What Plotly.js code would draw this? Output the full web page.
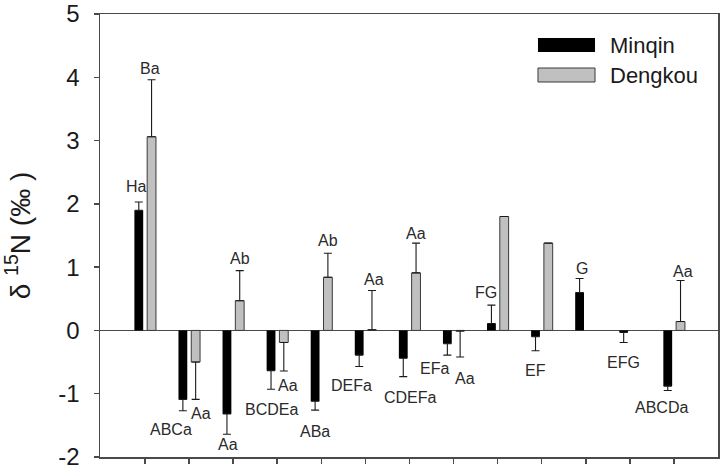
<!DOCTYPE html>
<html>
<head>
<meta charset="utf-8">
<script src="https://cdn.plot.ly/plotly-3.0.1.min.js"></script>
<style>
  html, body { margin: 0; padding: 0; background: #fff; }
  #chart { width: 720px; height: 474px; }
</style>
</head>
<body>
<div id="chart"></div>
<script>
// Sampling positions along the transect (no labels on the x axis)
const sampleIndex = [0, 1, 2, 3, 4, 5, 6, 7, 8, 9, 10, 11, 12];
const seriesNames = ['Minqin', 'Dengkou'];

// Mean δ15N (‰) and standard error for each site
const minqinMean = [1.90, -1.09, -1.32, -0.635, -1.12, -0.39, -0.44, -0.21, 0.11, -0.10, 0.60, -0.03, -0.88];
const minqinSE   = [0.13, 0.18, 0.32, 0.295, 0.14, 0.18, 0.29, 0.18, 0.29, 0.22, 0.22, 0.16, 0.07];
const dengkouMean = [3.06, -0.50, 0.47, -0.19, 0.84, 0.01, 0.91, -0.01, 1.80, 1.38, null, null, 0.14];
const dengkouSE   = [0.90, 0.59, 0.475, 0.45, 0.38, 0.62, 0.47, 0.41, null, null, null, null, 0.65];

// Significance letters
const minqinLetters  = ['Ha', 'ABCa', 'Aa', 'BCDEa', 'ABa', 'DEFa', 'CDEFa', 'EFa', 'FG', 'EF', 'G', 'EFG', 'ABCDa'];
const dengkouLetters = ['Ba', 'Aa', 'Ab', 'Aa', 'Ab', 'Aa', 'Aa', 'Aa', '', '', '', '', 'Aa'];

// Y tick labels
const yTickVals = [-2, -1, 0, 1, 2, 3, 4, 5];
const yTickText = ['-2', '-1', '0', '1', '2', '3', '4', '5'];

// ---- styling / placement ----
const BAR_W = 0.2;
const OFFSETS = [-0.24, 0.05];
const FILLS = ['#000000', '#c0c0c0'];
const OUTLINES = ['#000000', '#3a3a3a'];
const FONT = '"Liberation Sans", Arial, Helvetica, sans-serif';
// pixel nudges [dx, dy] for each letter label relative to the error-bar tip (dy > 0 is downward)
const minqinNudge  = [[-2, -15], [-12, 19], [1.5, 10], [0, 20], [0, 21], [-8, 19], [7, 21], [-13, 13], [-5, -13], [0, 20], [2, -10], [0, 20], [-6.5, 17]];
const dengkouNudge = [[-1.5, -11], [5, 14], [0, -12], [4, 15], [0, -13], [2, -11], [0, -10], [4.5, 21], null, null, null, null, [2, -9]];

// one-sided error bars pointing away from zero
function errorArrays(mean, se) {
  const plus = [], minus = [];
  mean.forEach((m, i) => {
    const e = se[i];
    if (m === null || e === null) { plus.push(null); minus.push(null); return; }
    plus.push(m >= 0 ? e : 0);
    minus.push(m < 0 ? e : 0);
  });
  return { plus, minus };
}

const means = [minqinMean, dengkouMean];
const ses = [minqinSE, dengkouSE];
const letters = [minqinLetters, dengkouLetters];
const nudges = [minqinNudge, dengkouNudge];

const traces = means.map((mean, k) => {
  const err = errorArrays(mean, ses[k]);
  return {
    type: 'bar',
    name: seriesNames[k],
    x: sampleIndex,
    y: mean,
    width: BAR_W,
    offset: OFFSETS[k],
    marker: { color: FILLS[k], line: { color: OUTLINES[k], width: k === 0 ? 0 : 1 } },
    error_y: {
      type: 'data', symmetric: false,
      array: err.plus, arrayminus: err.minus,
      color: '#1a1a1a', thickness: 1.1, width: 4
    },
    showlegend: false,
    hoverinfo: 'skip'
  };
});

// letter annotations placed at the error-bar tips
const annotations = [];
means.forEach((mean, k) => {
  mean.forEach((m, i) => {
    const txt = letters[k][i];
    if (!txt || m === null) return;
    const e = ses[k][i] || 0;
    const tip = m >= 0 ? m + e : m - e;
    const nd = nudges[k][i] || [0, 0];
    annotations.push({
      x: sampleIndex[i] + OFFSETS[k] + BAR_W / 2, y: tip,
      xref: 'x', yref: 'y', text: txt, showarrow: false,
      xanchor: 'center', yanchor: 'middle',
      xshift: nd[0], yshift: -nd[1],
      font: { family: FONT, size: 16, color: '#2a2a2a' }
    });
  });
});

// legend: swatches and labels in the upper right
const shapes = [];
const legendRows = [[0.9142, 0.9458], [0.8465, 0.8781]];
seriesNames.forEach((nm, k) => {
  shapes.push({
    type: 'rect', xref: 'paper', yref: 'paper',
    x0: 0.7087, x1: 0.801, y0: legendRows[k][0], y1: legendRows[k][1],
    fillcolor: FILLS[k], line: { color: OUTLINES[k], width: k === 0 ? 0 : 1 }
  });
  annotations.push({
    xref: 'paper', yref: 'paper', x: 0.822, y: (legendRows[k][0] + legendRows[k][1]) / 2,
    xanchor: 'left', yanchor: 'middle', showarrow: false, text: nm,
    font: { family: FONT, size: 22, color: '#1a1a1a' }
  });
});

const axisCommon = {
  showline: true, linecolor: '#4a4a4a', linewidth: 1.5, mirror: true,
  ticks: 'outside', ticklen: 5, tickwidth: 1.5, tickcolor: '#4a4a4a',
  showgrid: false, fixedrange: true
};

const layout = {
  width: 720, height: 474,
  margin: { l: 100, r: 2, t: 14, b: 17, pad: 0 },
  paper_bgcolor: '#ffffff', plot_bgcolor: '#ffffff',
  font: { family: FONT, color: '#1a1a1a' },
  barmode: 'overlay',
  xaxis: Object.assign({}, axisCommon, {
    range: [-1.02, 13.0],
    tickvals: sampleIndex,
    showticklabels: false,
    zeroline: false
  }),
  yaxis: Object.assign({}, axisCommon, {
    range: [-2, 5],
    tickvals: yTickVals, ticktext: yTickText,
    tickfont: { size: 24, family: FONT, color: '#1a1a1a' },
    ticklabelstandoff: 9,
    zeroline: true, zerolinecolor: '#4a4a4a', zerolinewidth: 1.5,
    title: { text: 'δ <sup>15</sup>N (‰ )', font: { size: 28, family: FONT, color: '#1a1a1a' }, standoff: 22 }
  }),
  shapes: shapes,
  annotations: annotations,
  showlegend: false
};

Plotly.newPlot('chart', traces, layout, { staticPlot: true, displayModeBar: false });
</script>
</body>
</html>
